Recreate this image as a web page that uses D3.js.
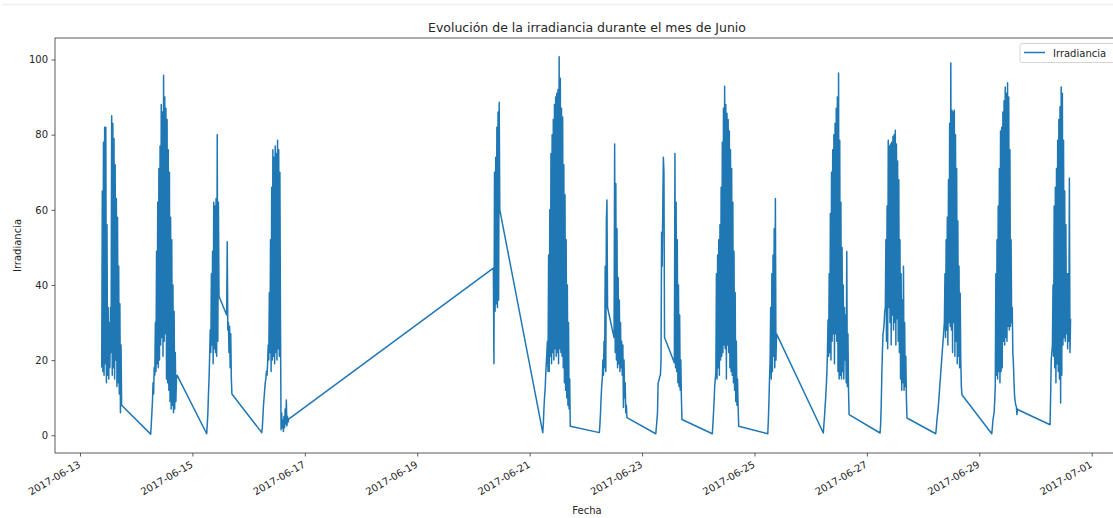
<!DOCTYPE html>
<html>
<head>
<meta charset="utf-8">
<script src="https://cdn.jsdelivr.net/npm/d3@7"></script>
<style>
	body { margin: 0; background: #fff; }
	svg { display: block; font-family: "DejaVu Sans", sans-serif; }
	.axis text { font-family: "DejaVu Sans", sans-serif; font-size: 10px; fill: #262626; }
	.axis path, .axis line { stroke: #333; stroke-width: 0.8; }
</style>
</head>
<body>
<div id="chart"></div>
<script>
// lecturas cada 15 minutos dentro de cada tramo
const stepMinutes = 15;

const tramo0613 = [18, 65, 17, 78, 16, 82, 19, 82, 14, 56, 16, 34, 15, 30, 18, 34, 22, 85, 16, 83, 18, 79, 15, 72, 20, 63, 13, 58, 14, 45, 11, 35, 6, 24, 8];
const tramo0614 = [0.3, 3, 6, 9, 14, 11, 18, 16, 30, 17, 49, 19, 62, 18, 71, 20, 77, 24, 88, 26, 86, 21, 95.8, 25, 90, 27, 87, 15, 84, 14, 76, 12, 70, 9, 58, 7, 52, 8, 40, 6, 33, 7, 22, 9, 15, 16];
const tramo0615a = [0.4, 3, 6, 11, 15, 21, 28, 22, 43, 24, 49, 19, 62, 23, 61, 22, 63, 21, 80, 25, 62, 37];
const tramo0615b = [32, 51.5, 28, 30, 22, 29, 18, 27, 15, 11];
const tramo0616 = [0.7, 2, 5, 8, 10, 12, 14, 15, 17, 16, 19, 24, 20, 38, 22, 52, 17, 66, 20, 76, 21, 74, 19, 77, 22, 75, 20, 78.5, 23, 76, 21, 70, 30, 1.5, 6, 2, 4, 1, 5, 2, 7, 3, 9.4, 2.5, 5, 3.5, 4.3];
const tramo0620 = [44.5, 19, 70, 33, 74, 35, 82, 34, 86, 36, 88.6, 60];
const tramo0621 = [0.7, 3, 7, 10, 12, 16, 19, 22, 25, 17, 48, 17, 60, 21, 75, 19, 80, 22, 84, 20, 88, 23, 90, 21, 91, 22, 92, 19, 100.7, 23, 95, 22, 87, 21, 84.7, 18, 72, 14, 64, 12, 52, 10, 40, 8, 30, 7, 15, 2.4];
const tramo0622a = [0.7, 3, 6, 10, 13, 15, 20, 16, 25, 18, 45, 17, 57, 62.6, 34];
const tramo0622b = [26, 77.5, 22, 67, 20, 55, 18, 42, 19, 36, 17, 30, 18, 25, 16, 24, 7.4, 20, 10, 14, 6, 8, 4.7];
const tramo0623a = [0.4, 2, 4, 6, 14, 14.3, 15, 15.7, 16, 20, 54, 45, 60, 74, 70, 26];
const tramo0623b = [19.3, 75, 18, 62, 17, 52, 14, 40, 13, 32, 12, 20, 10, 4.2];
const tramo0624 = [0.4, 3, 6, 9, 13, 15, 16.6, 43, 15, 48, 18, 52, 16, 56, 20, 66, 21, 78, 22, 87, 24, 92.9, 23, 88, 15, 85.7, 24, 84, 22, 81, 18, 76, 17, 71, 16, 62, 14, 49, 12, 38, 9, 25, 8, 15, 7.7, 2.4];
const tramo0625 = [0.4, 4, 9, 15, 20, 34, 15, 43, 17, 48, 21, 55, 18, 63, 20, 27];
const tramo0626 = [0.6, 3, 5, 7.7, 10, 13, 16.6, 22, 30.7, 21, 43, 22, 59, 20, 70, 25, 76, 27, 80, 19, 83, 27, 87, 25, 90, 17, 96.4, 15, 78.5, 16, 62, 15, 50, 17, 40, 15, 34, 20, 32, 14, 48.9, 13, 27, 12, 5.5];
const tramo0627 = [0.6, 3, 8, 16, 22, 27, 28, 30, 33, 34, 52, 25, 61, 23, 78.5, 34, 77, 30, 77.5, 24, 78, 32, 79.5, 28, 80, 30, 81.2, 24, 77.5, 31, 73, 25, 68, 22, 52, 15, 43, 12, 36, 14, 45, 12, 30, 13, 21, 10, 4.6];
const tramo0628a = [0.4, 2, 4, 5.5, 6.8];
const tramo0628b = [30, 43, 26, 52, 28, 58, 24, 68, 30, 83, 29, 99.1, 28, 86.5, 22, 86, 30, 86.5, 21, 80, 25, 71, 19, 57, 21, 45, 18, 37.8, 20, 13, 10.8];
const tramo0629 = [0.4, 2, 4, 5, 6, 9, 13, 43, 16, 52, 15, 61, 17, 71, 14, 81, 17, 82, 18, 86, 25, 89, 24, 92.7, 26, 91, 25, 93.8, 29, 90, 28, 76, 29, 52, 30, 34, 22, 19, 14, 10.4, 9, 8, 7.7, 5.5, 7, 6.8];
const tramo0630 = [2.8, 11, 20, 22, 24, 40, 21, 61, 18, 66, 14, 71, 19, 78.5, 17, 84, 15, 87.4, 8.6, 92.7, 16, 91, 24, 78.5, 26, 65, 25, 56, 27, 43, 23, 43, 25, 68.4, 22, 31];

// hora de la primera lectura de cada tramo
const tramos = [
	["2017-06-13 09:16", tramo0613],
	["2017-06-14 06:11", tramo0614],
	["2017-06-15 06:06", tramo0615a],
	["2017-06-15 14:37", tramo0615b],
	["2017-06-16 05:36", tramo0616],
	["2017-06-20 08:30", tramo0620],
	["2017-06-21 05:36", tramo0621],
	["2017-06-22 05:46", tramo0622a],
	["2017-06-22 12:03", tramo0622b],
	["2017-06-23 05:51", tramo0623a],
	["2017-06-23 13:48", tramo0623b],
	["2017-06-24 06:01", tramo0624],
	["2017-06-25 05:41", tramo0625],
	["2017-06-26 05:25", tramo0626],
	["2017-06-27 05:38", tramo0627],
	["2017-06-28 05:25", tramo0628a],
	["2017-06-28 09:06", tramo0628b],
	["2017-06-29 05:20", tramo0629],
	["2017-06-30 06:14", tramo0630]
];

const xTicks = ["2017-06-13", "2017-06-15", "2017-06-17", "2017-06-19", "2017-06-21", "2017-06-23", "2017-06-25", "2017-06-27", "2017-06-29", "2017-07-01"];
const yTicks = [0, 20, 40, 60, 80, 100];
const xLimits = ["2017-06-12 13:19", "2017-07-01 11:40"];

window.onload = function() {
	let margin = {top: 38, left: 55},
		width = 1064,
		height = 415,
		svgWidth = 1113,
		svgHeight = 518;

	let parse = d3.timeParse("%Y-%m-%d %H:%M"),
		parseDay = d3.timeParse("%Y-%m-%d");

	let data = [];
	tramos.forEach(function(t) {
		let t0 = parse(t[0]);
		t[1].forEach(function(v, i) {
			data.push({fecha: new Date(+t0 + i * stepMinutes * 60000), valor: v});
		});
	});

	let ext = d3.extent(data, d => d.valor),
		pad = (ext[1] - ext[0]) * 0.05;

	let x = d3.scaleTime().domain(xLimits.map(parse)).range([0, width]);
	let y = d3.scaleLinear().domain([ext[0] - pad, ext[1] + pad]).range([height, 0]);

	let svg = d3.select("#chart").append("svg")
		.attr("width", svgWidth)
		.attr("height", svgHeight);

	// linea tenue de la celda del notebook
	svg.append("line")
		.attr("x1", 2).attr("x2", svgWidth)
		.attr("y1", 4.5).attr("y2", 4.5)
		.attr("stroke", "#eeeeee").attr("stroke-width", 1.5);

	let top = svg.append("g")
		.attr("transform", "translate(" + margin.left + "," + margin.top + ")");

	let line = d3.line()
		.x(d => x(d.fecha))
		.y(d => y(d.valor));

	top.append("path")
		.datum(data)
		.attr("d", line)
		.attr("fill", "none")
		.attr("stroke", "#1f77b4")
		.attr("stroke-width", 1.5)
		.attr("stroke-linejoin", "round");

	// ejes
	let xAxis = d3.axisBottom(x)
		.tickValues(xTicks.map(parseDay))
		.tickFormat(d3.timeFormat("%Y-%m-%d"))
		.tickSize(3.5).tickSizeOuter(0).tickPadding(3.5);
	let yAxis = d3.axisLeft(y)
		.tickValues(yTicks)
		.tickSize(3.5).tickSizeOuter(0).tickPadding(3.5);

	let xAxisNode = top.append("g")
		.attr("class", "axis")
		.attr("transform", "translate(0," + height + ")")
		.call(xAxis);
	xAxisNode.select(".domain").remove();
	xAxisNode.selectAll("text")
		.attr("y", 0).attr("x", 0)
		.attr("dy", "0.75em")
		.attr("transform", "translate(-3,7) rotate(-30)")
		.style("text-anchor", "end");

	let yAxisNode = top.append("g")
		.attr("class", "axis")
		.call(yAxis);
	yAxisNode.select(".domain").remove();

	// marco
	top.append("rect")
		.attr("width", width).attr("height", height)
		.attr("fill", "none")
		.attr("stroke", "#333")
		.attr("stroke-width", 0.8);

	// titulos
	svg.append("text")
		.attr("x", margin.left + width / 2).attr("y", 32)
		.attr("text-anchor", "middle")
		.style("font-size", "12.5px").style("fill", "#262626")
		.text("Evolución de la irradiancia durante el mes de Junio");
	svg.append("text")
		.attr("x", margin.left + width / 2).attr("y", 514)
		.attr("text-anchor", "middle")
		.style("font-size", "10px").style("fill", "#262626")
		.text("Fecha");
	svg.append("text")
		.attr("transform", "translate(21," + (margin.top + height / 2) + ") rotate(-90)")
		.attr("text-anchor", "middle")
		.style("font-size", "10px").style("fill", "#262626")
		.text("Irradiancia");

	// leyenda
	let legend = svg.append("g").attr("transform", "translate(1020,43.5)");
	legend.append("rect")
		.attr("width", 110).attr("height", 19).attr("rx", 2)
		.attr("fill", "#fff").attr("fill-opacity", 0.8)
		.attr("stroke", "#d5d5d5").attr("stroke-width", 1);
	legend.append("line")
		.attr("x1", 4).attr("x2", 25).attr("y1", 9).attr("y2", 9)
		.attr("stroke", "#1f77b4").attr("stroke-width", 1.5);
	legend.append("text")
		.attr("x", 33).attr("y", 13)
		.style("font-size", "10px").style("fill", "#262626")
		.text("Irradiancia");
};
</script>
</body>
</html>
